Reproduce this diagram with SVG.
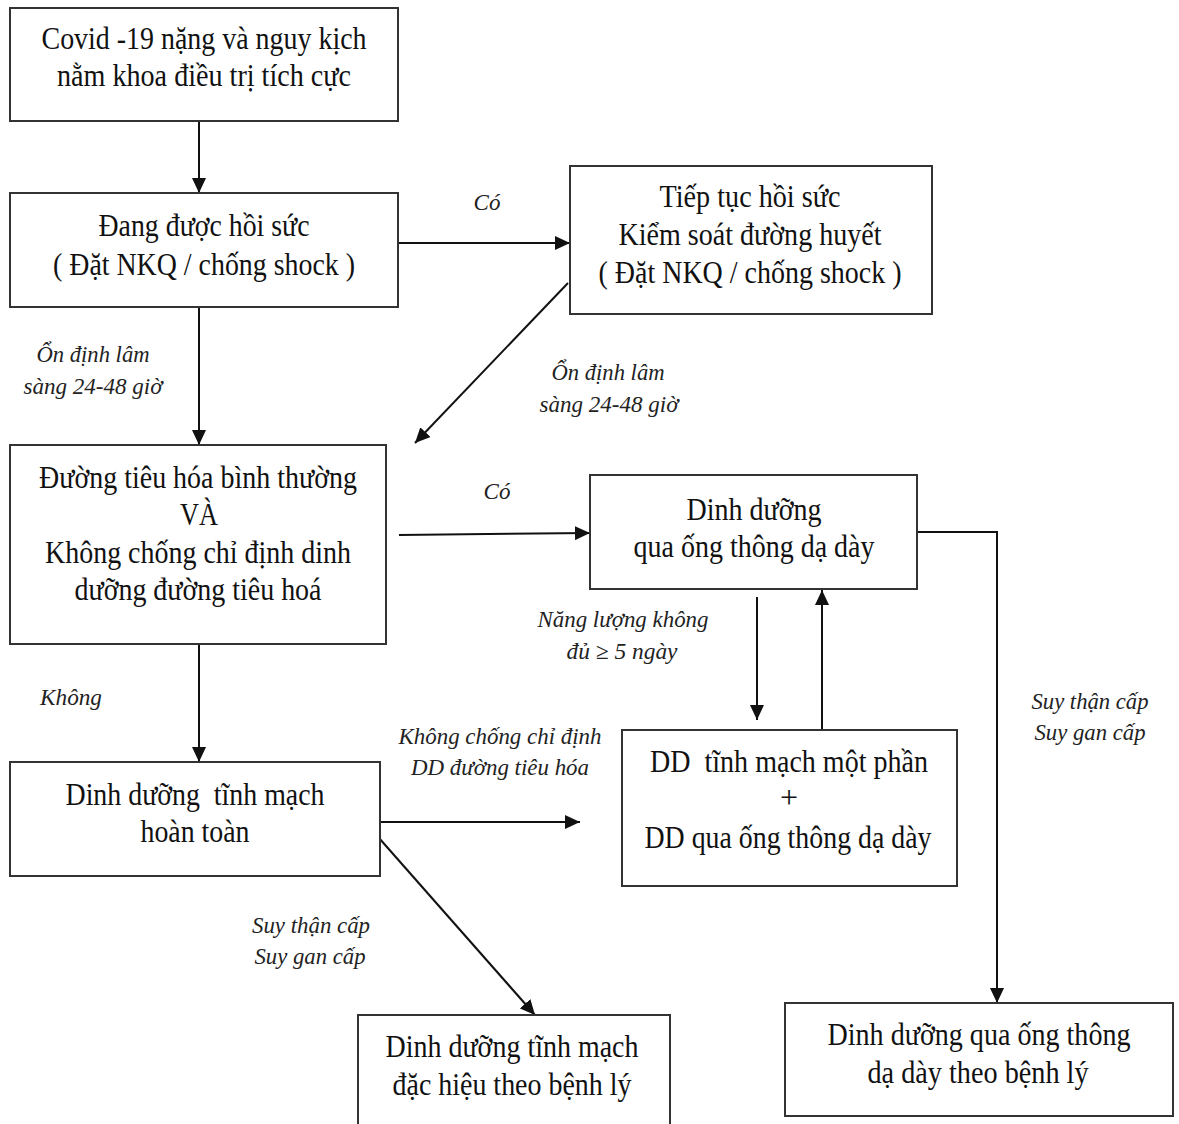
<svg xmlns="http://www.w3.org/2000/svg" width="1179" height="1124" viewBox="0 0 1179 1124">
<style>
.box{fill:#fff;stroke:#333;stroke-width:2}
.t{font-family:"Liberation Serif","Times New Roman",serif;font-size:32px;fill:#111;text-anchor:middle}
.l{font-family:"Liberation Serif","Times New Roman",serif;font-size:23px;font-style:italic;fill:#222;text-anchor:middle}
.c{fill:none;stroke:#111;stroke-width:2;marker-end:url(#ah)}
</style>
<defs>
<marker id="ah" markerUnits="userSpaceOnUse" markerWidth="16" markerHeight="14" refX="15" refY="7" orient="auto">
<path d="M0,0 L15,7 L0,14 Z" fill="#111"/>
</marker>
</defs>
<rect width="1179" height="1124" fill="#fff"/>
<g id="connectors">
<line class="c" x1="199" y1="121" x2="199" y2="193"/>
<line class="c" x1="398" y1="243" x2="570" y2="243"/>
<line class="c" x1="568" y1="283" x2="415" y2="443"/>
<line class="c" x1="199" y1="307" x2="199" y2="445"/>
<line class="c" x1="399" y1="535" x2="590" y2="533"/>
<polyline class="c" points="917,532 997,532 997,1003"/>
<line class="c" x1="757" y1="597" x2="757" y2="720"/>
<line class="c" x1="822" y1="730" x2="822" y2="590"/>
<line class="c" x1="199" y1="644" x2="199" y2="762"/>
<line class="c" x1="380" y1="822" x2="580" y2="822"/>
<line class="c" x1="379" y1="838" x2="535" y2="1015"/>
<text class="l" x="487" y="210">Có</text>
<text class="l" x="497" y="499">Có</text>
<text class="l" x="93" y="362" textLength="113" lengthAdjust="spacingAndGlyphs">Ổn định lâm</text>
<text class="l" x="93" y="394" textLength="139" lengthAdjust="spacingAndGlyphs">sàng 24-48 giờ</text>
<text class="l" x="608" y="380" textLength="113" lengthAdjust="spacingAndGlyphs">Ổn định lâm</text>
<text class="l" x="609" y="412" textLength="139" lengthAdjust="spacingAndGlyphs">sàng 24-48 giờ</text>
<text class="l" x="623" y="627" textLength="171" lengthAdjust="spacingAndGlyphs">Năng lượng không</text>
<text class="l" x="622" y="659" textLength="111" lengthAdjust="spacingAndGlyphs">đủ ≥ 5 ngày</text>
<text class="l" x="71" y="705" textLength="62" lengthAdjust="spacingAndGlyphs">Không</text>
<text class="l" x="500" y="744" textLength="203" lengthAdjust="spacingAndGlyphs">Không chống chỉ định</text>
<text class="l" x="500" y="775" textLength="178" lengthAdjust="spacingAndGlyphs">DD đường tiêu hóa</text>
<text class="l" x="311" y="933" textLength="118" lengthAdjust="spacingAndGlyphs">Suy thận cấp</text>
<text class="l" x="310" y="964" textLength="111" lengthAdjust="spacingAndGlyphs">Suy gan cấp</text>
<text class="l" x="1090" y="709" textLength="117" lengthAdjust="spacingAndGlyphs">Suy thận cấp</text>
<text class="l" x="1090" y="740" textLength="111" lengthAdjust="spacingAndGlyphs">Suy gan cấp</text>
</g>
<g id="n1">
<rect class="box" x="10" y="8" width="388" height="113"/>
<text class="t" x="204" y="49" textLength="325" lengthAdjust="spacingAndGlyphs">Covid -19 nặng và nguy kịch</text>
<text class="t" x="204" y="86" textLength="294" lengthAdjust="spacingAndGlyphs">nằm khoa điều trị tích cực</text>
</g>
<g id="n2">
<rect class="box" x="10" y="193" width="388" height="114"/>
<text class="t" x="204" y="236" textLength="211" lengthAdjust="spacingAndGlyphs">Đang được hồi sức</text>
<text class="t" x="204" y="275" textLength="302" lengthAdjust="spacingAndGlyphs">( Đặt NKQ / chống shock )</text>
</g>
<g id="n3">
<rect class="box" x="570" y="166" width="362" height="148"/>
<text class="t" x="750" y="207" textLength="181" lengthAdjust="spacingAndGlyphs">Tiếp tục hồi sức</text>
<text class="t" x="750" y="245" textLength="263" lengthAdjust="spacingAndGlyphs">Kiểm soát đường huyết</text>
<text class="t" x="750" y="283" textLength="303" lengthAdjust="spacingAndGlyphs">( Đặt NKQ / chống shock )</text>
</g>
<g id="n4">
<rect class="box" x="10" y="445" width="376" height="199"/>
<text class="t" x="198" y="488" textLength="318" lengthAdjust="spacingAndGlyphs">Đường tiêu hóa bình thường</text>
<text class="t" x="199" y="525" textLength="38" lengthAdjust="spacingAndGlyphs">VÀ</text>
<text class="t" x="198" y="563" textLength="306" lengthAdjust="spacingAndGlyphs">Không chống chỉ định dinh</text>
<text class="t" x="198" y="600" textLength="247" lengthAdjust="spacingAndGlyphs">dưỡng đường tiêu hoá</text>
</g>
<g id="n5">
<rect class="box" x="590" y="475" width="327" height="114"/>
<text class="t" x="754" y="520" textLength="135" lengthAdjust="spacingAndGlyphs">Dinh dưỡng</text>
<text class="t" x="754" y="557" textLength="241" lengthAdjust="spacingAndGlyphs">qua ống thông dạ dày</text>
</g>
<g id="n6">
<rect class="box" x="622" y="730" width="335" height="156"/>
<text class="t" x="789" y="772" textLength="278" lengthAdjust="spacingAndGlyphs" xml:space="preserve">DD  tĩnh mạch một phần</text>
<text class="t" x="789" y="808" style="font-weight:300">+</text>
<text class="t" x="788" y="848" textLength="287" lengthAdjust="spacingAndGlyphs">DD qua ống thông dạ dày</text>
</g>
<g id="n7">
<rect class="box" x="785" y="1003" width="388" height="113"/>
<text class="t" x="979" y="1045" textLength="303" lengthAdjust="spacingAndGlyphs">Dinh dưỡng qua ống thông</text>
<text class="t" x="978" y="1083" textLength="221" lengthAdjust="spacingAndGlyphs">dạ dày theo bệnh lý</text>
</g>
<g id="n8">
<rect class="box" x="10" y="762" width="370" height="114"/>
<text class="t" x="195" y="805" textLength="259" lengthAdjust="spacingAndGlyphs" xml:space="preserve">Dinh dưỡng  tĩnh mạch</text>
<text class="t" x="195" y="842" textLength="109" lengthAdjust="spacingAndGlyphs">hoàn toàn</text>
</g>
<g id="n9">
<rect class="box" x="358" y="1015" width="312" height="120"/>
<text class="t" x="512" y="1057" textLength="253" lengthAdjust="spacingAndGlyphs">Dinh dưỡng tĩnh mạch</text>
<text class="t" x="512" y="1095" textLength="239" lengthAdjust="spacingAndGlyphs">đặc hiệu theo bệnh lý</text>
</g>
</svg>
